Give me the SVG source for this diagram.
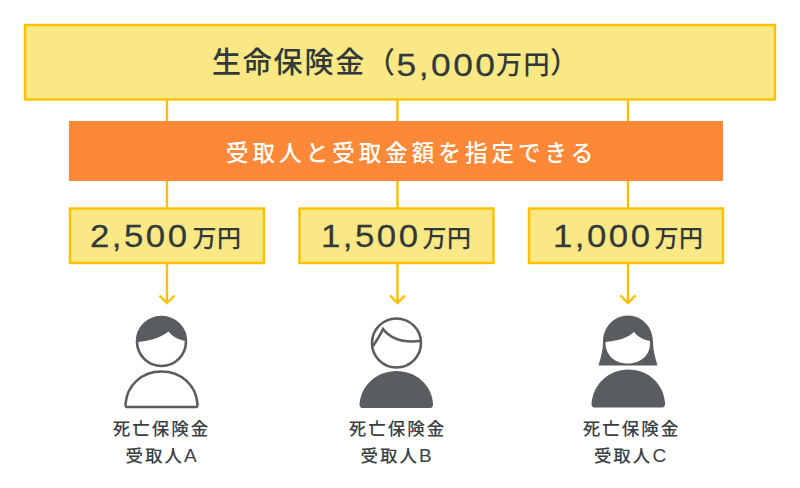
<svg xmlns="http://www.w3.org/2000/svg" width="800" height="488" viewBox="0 0 800 488">
<style>
text{font-family:"Noto Sans CJK JP","Noto Sans",sans-serif;font-weight:500;fill:#33383b}
.box{fill:#fae885;stroke:#fcc000;stroke-width:2.4}
.ln{fill:none;stroke:#fcc000;stroke-width:2.4}
.big{font-size:29px;letter-spacing:1.8px}
.amt{font-size:30.500px;letter-spacing:2.200px;font-family:"Liberation Sans",sans-serif;font-weight:400;stroke:#33383b;stroke-width:.25px}
.unit{font-size:24px;letter-spacing:.5px;font-family:"Noto Sans CJK JP",sans-serif;font-weight:500}
.cap{font-size:17.500px;letter-spacing:2px;fill:#3b3f42;text-anchor:middle}
.capl{font-family:"Liberation Sans",sans-serif;font-size:19px}
.g{fill:#5a5d60}
.o{fill:#fff;stroke:#5a5d60;stroke-width:2.6}
</style>
<g id="connectors">
<path class="ln" d="M167 100V208M397.500 100V208M628 100V208M167 263V303M397.500 263V303M628 263V303"/>
<path class="ln" d="M159.500 295.500L167 303L174.500 295.500M390 295.500L397.500 303L405 295.500M620.500 295.500L628 303L635.500 295.500"/>
</g>
<g id="total"><rect class="box" x="25" y="25" width="750" height="74.500"/>
<text class="big" x="212" y="73">生命保険金（</text><text class="amt" transform="translate(396.500 75.500) scale(1.14 1)" style="font-size:31px">5,000</text><text class="unit" x="496" y="74" style="font-size:26px;letter-spacing:1.500px">万円</text><text class="big" x="550" y="73">）</text></g>
<g id="banner"><rect x="69" y="121" width="654" height="60" fill="#fd8838"/>
<text x="226" y="161" style="fill:#fff;font-size:22.500px;letter-spacing:4.050px">受取人と受取金額を指定できる</text></g>
<g id="amount-a"><rect class="box" x="70" y="208.500" width="194" height="54.500"/><text class="amt" transform="translate(90 247) scale(1.14 1)">2,500</text><text class="unit" x="192.500" y="247">万円</text></g>
<g id="amount-b"><rect class="box" x="299.500" y="208.500" width="194" height="54.500"/><text class="amt" transform="translate(321 247) scale(1.14 1)">1,500</text><text class="unit" x="422.500" y="247">万円</text></g>
<g id="amount-c"><rect class="box" x="529" y="208.500" width="194" height="54.500"/><text class="amt" transform="translate(553 247) scale(1.14 1)">1,000</text><text class="unit" x="654.500" y="247">万円</text></g>
<g id="person-a">
<circle class="o" cx="161.500" cy="341.500" r="24.500"/>
<path class="g" d="M137.500 342C137.500 327 148 316.500 161.500 316.500C175 316.500 185.500 327 185.500 341C179 340 173 337 168.500 331.500C162 337 150 341 137.500 342Z"/>
<path class="o" d="M127 407C125.500 407 125.500 405.500 125.500 404C127 385 142 371.500 161.500 371.500C181 371.500 196 385 197.500 404C197.500 405.500 197.500 407 196 407Z"/>
<text class="cap" x="161.500" y="435">死亡保険金</text><text class="cap" x="162" y="462">受取人<tspan class="capl">A</tspan></text></g>
<g id="person-b">
<circle class="o" cx="396.500" cy="343" r="24.500"/>
<path class="ln" style="stroke:#5a5d60;stroke-width:2.6" d="M373 346C376 341 380 336 383 329C390 338 402 343 420 341"/>
<path class="g" d="M363 408C360 408 359.500 406 359.500 404C361 385 377 371 396.500 371C416 371 432 385 433 404C433 406 432.500 408 430 408Z"/>
<text class="cap" x="397.500" y="435">死亡保険金</text><text class="cap" x="397" y="462">受取人<tspan class="capl">B</tspan></text></g>
<g id="person-c">
<path class="g" d="M598.500 365.500C601 357 603 350 603 342C603 327 614 315.500 628 315.500C642 315.500 653 327 653 342C653 350 655 357 657.500 365.500Z"/>
<path d="M605.500 342C617 341 628 338 634 332C638 337 644 340 650 341C651 355 641 363.500 628 363.500C615 363.500 605 355 605.500 342Z" fill="#fff"/>
<path class="g" d="M595 407.500C592 407.500 591.500 405.500 591.500 403.500C593 384 609 369.500 628.500 369.500C648 369.500 664 384 665 403.500C665 405.500 664.500 407.500 662 407.500Z"/>
<text class="cap" x="631.500" y="435">死亡保険金</text><text class="cap" x="631" y="462">受取人<tspan class="capl">C</tspan></text></g>
</svg>
